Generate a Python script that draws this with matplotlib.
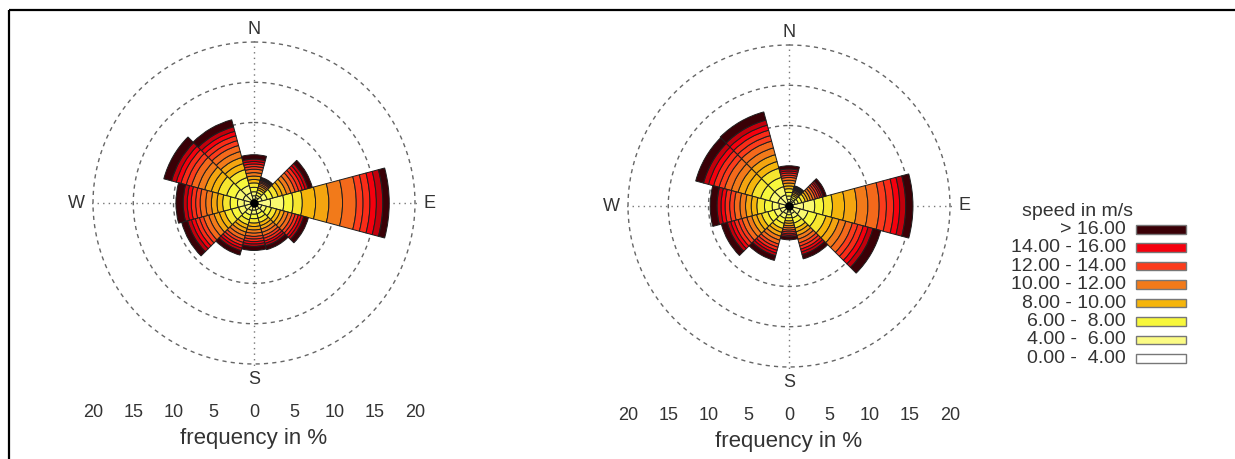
import numpy as np
import matplotlib.pyplot as plt
from matplotlib.colors import to_rgb
from matplotlib.patches import Rectangle

plt.rcParams['font.family'] = ['Liberation Sans', 'DejaVu Sans']

# wind directions (deg, clockwise from north) and speed classes
directions = [0, 30, 60, 90, 120, 150, 180, 210, 240, 270, 300, 330]
speed_labels = ["0.00 -  4.00", "4.00 -  6.00", "6.00 -  8.00", "8.00 - 10.00",
                "10.00 - 12.00", "12.00 - 14.00", "14.00 - 16.00", "> 16.00"]
speed_colors = ["#ffffff", "#fbfb84", "#f7f73c", "#f5b50c",
                "#f27a1a", "#fb3c1c", "#f5000e", "#3a0006"]

# frequency (%) per direction, one column per speed class
left_freq = [
    [0.4, 1.0, 1.1, 0.85, 0.85, 0.65, 0.6, 0.55],
    [0.4, 0.6, 0.7, 0.5, 0.4, 0.3, 0.25, 0.15],
    [0.4, 1.3, 1.4, 1.1, 1.1, 0.9, 0.75, 0.55],
    [0.4, 3.3, 2.3, 3.3, 3.4, 1.7, 1.6, 0.8],
    [0.4, 1.2, 1.3, 1.0, 1.0, 0.8, 0.7, 0.6],
    [0.4, 1.0, 1.1, 0.85, 0.85, 0.7, 0.6, 0.5],
    [0.4, 1.0, 1.1, 0.85, 0.8, 0.65, 0.6, 0.5],
    [0.4, 1.15, 1.25, 0.95, 0.95, 0.75, 0.7, 0.55],
    [0.4, 1.6, 1.8, 1.35, 1.35, 1.05, 1.0, 0.75],
    [0.4, 1.65, 1.85, 1.4, 1.4, 1.1, 1.0, 0.9],
    [0.4, 2.0, 2.25, 1.7, 1.7, 1.35, 1.2, 1.0],
    [0.4, 1.85, 2.05, 1.55, 1.55, 1.25, 1.15, 0.9],
]
right_freq = [
    [0.4, 0.85, 0.9, 0.7, 0.7, 0.55, 0.5, 0.4],
    [0.4, 0.45, 0.5, 0.4, 0.3, 0.25, 0.2, 0.1],
    [0.4, 0.8, 0.9, 0.65, 0.65, 0.55, 0.45, 0.4],
    [0.4, 2.8, 2.2, 3.0, 2.8, 1.8, 1.5, 0.9],
    [0.4, 2.05, 2.3, 1.7, 1.7, 1.4, 1.25, 1.0],
    [0.4, 1.15, 1.3, 0.95, 0.95, 0.8, 0.7, 0.55],
    [0.4, 0.7, 0.75, 0.6, 0.55, 0.45, 0.4, 0.35],
    [0.4, 1.2, 1.3, 1.0, 1.0, 0.8, 0.7, 0.6],
    [0.4, 1.5, 1.65, 1.25, 1.25, 1.0, 0.9, 0.75],
    [0.4, 1.7, 1.9, 1.4, 1.4, 1.15, 1.0, 0.85],
    [0.4, 2.1, 2.3, 1.75, 1.75, 1.4, 1.3, 1.0],
    [0.4, 2.1, 2.35, 1.75, 1.75, 1.4, 1.3, 1.05],
]
freq_ticks = [-20, -15, -10, -5, 0, 5, 10, 15, 20]
circle_levels = [10, 15, 20]

# number of thin rings each speed class is drawn with
ring_counts = [4, 2, 2, 2, 2, 2, 2, 1]

W, H = 1235, 459
fig = plt.figure(figsize=(W / 100, H / 100), dpi=100)

RMAX = 22
PX_PER_PCT = 8.05
TXT = '#333333'


def rose(cx, cy, freq):
    half = RMAX * PX_PER_PCT
    rect = [(cx - half) / W, (H - cy - half) / H, 2 * half / W, 2 * half / H]
    ax = fig.add_axes(rect, projection='polar')
    ax.set_theta_zero_location('N')
    ax.set_theta_direction(-1)
    ax.set_ylim(0, RMAX)
    ax.axis('off')

    # dashed rings and dotted cross
    th = np.linspace(0, 2 * np.pi, 361)
    for r in circle_levels:
        ax.plot(th, np.full_like(th, r), color='#666666', lw=1.0,
                ls=(0, (3, 3)), zorder=1)
    for a in [0, 90, 180, 270]:
        ax.plot([np.deg2rad(a)] * 2, [0, 20.6], color='#777777', lw=1.0,
                ls=(0, (1, 3)), zorder=1)

    # stacked sectors, each class split into thin rings with graded colour
    f = np.array(freq)
    theta = np.deg2rad(directions)
    width = np.deg2rad(360 / len(directions))
    bottom = np.zeros(len(directions))
    for k in range(len(speed_colors)):
        n = ring_counts[k]
        c0 = np.array(to_rgb(speed_colors[k]))
        c1 = np.array(to_rgb(speed_colors[min(k + 1, len(speed_colors) - 1)]))
        seg = f[:, k] / n
        for j in range(n):
            col = c0 + (c1 - c0) * 0.55 * j / n
            ax.bar(theta, seg, width=width, bottom=bottom, color=col,
                   edgecolor='#1e1e1e', linewidth=0.7, zorder=3)
            bottom = bottom + seg
    ax.scatter([0], [0], s=26, color='black', zorder=5)

    for lab, ang, r in [('N', 0, 21.5), ('E', 90, 21.8), ('S', 180, 21.9), ('W', 270, 22.1)]:
        ax.text(np.deg2rad(ang), r, lab, ha='center', va='center',
                fontsize=13, color=TXT)

    # frequency scale below the rose
    tx = fig.add_axes(rect)
    tx.set_xlim(-RMAX, RMAX)
    tx.set_ylim(-RMAX, RMAX)
    tx.patch.set_visible(False)
    for s in tx.spines.values():
        s.set_visible(False)
    tx.set_yticks([])
    tx.set_xticks(freq_ticks)
    tx.set_xticklabels([str(abs(t)) for t in freq_ticks])
    tx.tick_params(axis='x', length=0, pad=17, labelsize=13, labelcolor=TXT)
    tx.set_xlabel('frequency in %', fontsize=16, labelpad=5, color=TXT)


rose(254, 203, left_freq)
rose(789, 206, right_freq)

# legend and frame drawn in pixel space
lg = fig.add_axes([0, 0, 1, 1])
lg.set_xlim(0, W)
lg.set_ylim(H, 0)
lg.axis('off')
lg.text(1077, 212, 'speed in m/s', ha='center', va='center', fontsize=14, color=TXT)
for i, k in enumerate(range(len(speed_labels) - 1, -1, -1)):
    y = 229.3 + i * 18.43
    lg.text(1126, y, speed_labels[k], ha='right', va='center', fontsize=14, color=TXT)
    lg.add_patch(Rectangle((1136, y - 4.3), 50, 8.6, facecolor=speed_colors[k],
                           edgecolor='#777777', linewidth=1.0))
lg.plot([9, W], [10, 10], color='black', lw=1.6, solid_capstyle='butt')
lg.plot([9, 9], [10, H], color='black', lw=1.6, solid_capstyle='butt')

fig.savefig('out.png', dpi=100)
